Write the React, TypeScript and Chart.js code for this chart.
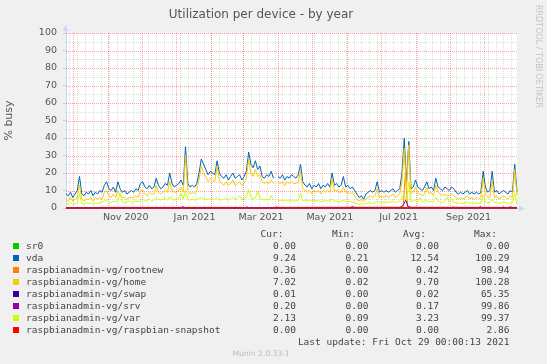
import React, { useEffect, useRef } from 'react';
import { Chart, registerables } from 'chart.js';

Chart.register(...registerables);

// ---- time frame ----
const START_UTC = Date.UTC(2020, 8, 25); // day 0
const DAY_MS = 86400000;
const RANGE_DAYS = 400;
const STEP_DAYS = 2; // one sample every 2 days
const LABEL_SHIFT_DAYS = 16; // rrdtool centres month labels mid-month

// ---- tick labels / grid ----
const X_LABELS = ['Nov 2020', 'Jan 2021', 'Mar 2021', 'May 2021', 'Jul 2021', 'Sep 2021'];
const X_LABEL_MONTHS: [number, number][] = [[2020, 10], [2021, 0], [2021, 2], [2021, 4], [2021, 6], [2021, 8]];
const GRID_MONTHS: [number, number][] = [
  [2020, 9], [2020, 10], [2020, 11], [2021, 0], [2021, 1], [2021, 2], [2021, 3],
  [2021, 4], [2021, 5], [2021, 6], [2021, 7], [2021, 8], [2021, 9],
];
const FIRST_MONDAY_UTC = Date.UTC(2020, 8, 28);
const Y_MAJOR = [0, 10, 20, 30, 40, 50, 60, 70, 80, 90, 100];
const Y_MINOR = [5, 15, 25, 35, 45, 55, 65, 75, 85, 95];

// ---- series (one value every 2 days) ----
const VDA = [
  8, 7, 9, 6, 8, 10, 18, 8, 7, 9,
  8, 10, 7, 9, 8, 10, 9, 13, 15, 11,
  10, 12, 9, 15, 11, 9, 10, 8, 9, 10,
  9, 11, 10, 14, 15, 12, 11, 13, 11, 12,
  17, 13, 11, 12, 14, 13, 20, 14, 12, 13,
  14, 16, 13, 35, 14, 12, 13, 12, 14, 20,
  28, 25, 22, 19, 21, 20, 19, 27, 20, 18,
  17, 19, 16, 18, 20, 17, 18, 19, 16, 18,
  21, 32, 25, 23, 27, 22, 24, 18, 17, 19,
  18, 21, 17, null, 18, 17, 19, 16, 18, 17,
  19, 18, 17, 19, 25, 15, 13, 12, 14, 11,
  13, 12, 14, 11, 13, 12, 14, 12, 20, 13,
  14, 12, 13, 18, 12, 13, 11, 12, 10, 8,
  6, 7, 5, 8, 9, 10, 9, 10, 15, 9,
  10, 9, 10, 9, 10, 11, 9, 10, 11, 20,
  40, 14, 38, 11, 12, 16, 12, 11, 10, 12,
  15, 11, 12, 10, 17, 12, 11, 10, 12, 11,
  10, 12, 11, 9, 8, 9, 8, 9, 10, 8,
  9, 8, 9, 8, 9, 21, 12, 9, 10, 21,
  9, 10, 8, 9, 10, 9, 8, 10, 9, 25,
  9.24,
];
const HOME = [
  5, 4, 6, 4, 5, 6, 13, 5, 4, 5,
  5, 6, 4, 6, 5, 6, 5, 9, 10, 7,
  6, 8, 6, 10, 7, 6, 6, 5, 6, 6,
  6, 7, 6, 10, 10, 8, 7, 9, 8, 8,
  13, 9, 8, 9, 10, 9, 15, 10, 9, 9,
  10, 12, 9, 30, 10, 8, 9, 8, 10, 16,
  24, 20, 18, 15, 17, 16, 15, 24, 16, 14,
  13, 15, 13, 14, 16, 13, 14, 15, 13, 14,
  17, 28, 20, 18, 22, 18, 19, 15, 14, 15,
  14, 16, 14, null, 15, 14, 15, 13, 15, 14,
  15, 14, 14, 15, 21, 11, 10, 9, 10, 8,
  10, 9, 10, 8, 10, 9, 10, 9, 17, 10,
  10, 9, 9, 12, 9, 9, 8, 9, 7, 5,
  4, 5, 3.6, 5, 6, 7, 6, 7, 11, 6,
  7, 6, 7, 6, 7, 8, 6, 7, 8, 15,
  34, 10, 36, 8, 9, 12, 8, 8, 7, 8,
  12, 8, 9, 7, 13, 9, 8, 7, 8, 7,
  7, 8, 7, 6, 5, 6, 5, 6, 7, 5,
  6, 5, 6, 5, 6, 17, 8, 6, 6, 16,
  6, 7, 5, 6, 7, 6, 5, 7, 6, 22,
  7.02,
];
const VAR = [
  2.5, 2, 3, 2, 2.5, 3, 8, 2.5, 2, 3,
  2.5, 3, 2, 3, 2.5, 3, 3.5, 4, 4.5, 3.5,
  3, 4, 3.5, 4, 8.5, 3.5, 3, 3.5, 4, 3,
  3.5, 4, 3.5, 4.5, 5, 4, 4.5, 5, 4, 4.5,
  6, 5, 4.5, 5, 5.5, 4.5, 6.5, 5, 4.5, 5,
  5.5, 8.5, 5, 10, 5, 4.5, 5, 4.5, 5, 5.5,
  6, 5.5, 5, 5, 5.5, 5, 5, 6, 5, 4.5,
  5, 5.5, 4.5, 5, 6, 5, 5.5, 7, 5, 5.5,
  6, 10.5, 6, 5.5, 6, 9.5, 5.5, 5, 4.5, 5,
  4.5, 7, 4.5, null, 4.5, 4, 4.5, 4, 4.5, 4,
  4.5, 4, 4, 4.5, 8.5, 4, 4.5, 4, 4.5, 4,
  4.5, 4, 4.5, 3.5, 4, 4.5, 4, 4, 5, 4,
  4, 3.5, 4, 4.5, 3.5, 4, 3.5, 3.5, 3, 2.5,
  2, 2.5, 2, 2.5, 3, 3, 2.5, 3, 4, 3,
  3.5, 3, 3.5, 3, 3.5, 4, 3, 3.5, 4, 6,
  8, 4, 15, 3.5, 4, 4.5, 3.5, 6, 3.5, 4,
  4.5, 3.5, 4, 3.5, 6, 4, 3.5, 3, 4, 6,
  3.5, 5.5, 3, 3, 2.5, 3, 2.5, 3, 3.5, 2.5,
  3, 2.5, 3, 2.5, 3, 7.5, 3.5, 3, 3, 5,
  3, 3.5, 2.5, 3, 3.5, 3, 2.5, 3, 3, 8.5,
  2.13,
];

// sparse series: [day, value]
const ROOTNEW_DAYS = [0, 29, 30, 158, 159, 183, 184, 299, 301, 303, 400];
const ROOTNEW_VALUES = [0, 0, 0.4, 0.4, 0, 0, 0.4, 0.5, 20, 0.5, 0.36];
const SRV_DAYS = [0, 102, 103.5, 105, 159, 160.5, 162, 185.5, 187, 188.5, 252, 254, 256, 296, 299, 301.5, 303, 306, 342, 343.5, 345, 366, 367.5, 369, 386.5, 388, 389.5, 392.5, 394, 395.5, 400];
const SRV_VALUES = [0.1, 0.1, 0.9, 0.1, 0.1, 0.7, 0.1, 0.1, 0.6, 0.1, 0.1, 0.9, 0.1, 0.2, 1.5, 4.8, 1.2, 0.2, 0.1, 0.6, 0.1, 0.1, 0.8, 0.1, 0.1, 0.6, 0.1, 0.1, 0.8, 0.2, 0.2];
const SWAP_DAYS = [0, 400];
const SWAP_VALUES = [0, 0.01];
const SR0_DAYS = [0, 400];
const SR0_VALUES = [0, 0];
const SNAPSHOT_DAYS = [0, 400];
const SNAPSHOT_VALUES = [0, 0];

// ---- legend table ----
const SERIES_NAMES = [
  'sr0', 'vda', 'raspbianadmin-vg/rootnew', 'raspbianadmin-vg/home', 'raspbianadmin-vg/swap',
  'raspbianadmin-vg/srv', 'raspbianadmin-vg/var', 'raspbianadmin-vg/raspbian-snapshot',
];
const SERIES_COLORS = ['#00CC00', '#0066B3', '#FF8000', '#FFCC00', '#330099', '#990099', '#CCFF00', '#FF0000'];
const CUR = ['0.00', '9.24', '0.36', '7.02', '0.01', '0.20', '2.13', '0.00'];
const MIN = ['0.00', '0.21', '0.00', '0.02', '0.00', '0.00', '0.09', '0.00'];
const AVG = ['0.00', '12.54', '0.42', '9.70', '0.02', '0.17', '3.23', '0.00'];
const MAX = ['0.00', '100.29', '98.94', '100.28', '65.35', '99.86', '99.37', '2.86'];
const HEADERS = ['Cur:', 'Min:', 'Avg:', 'Max:'];
const LAST_UPDATE = 'Last update: Fri Oct 29 00:00:13 2021';
const TITLE = 'Utilization per device - by year';
const Y_TITLE = '% busy';
const SIDE_TEXT = 'RRDTOOL / TOBI OETIKER';
const VERSION_TEXT = 'Munin 2.0.33-1';

// ---- styles ----
const W = 547;
const H = 364;
const BG = '#F0F0F0';
const TEXT = '#555555';
const LEGEND_TEXT = '#444444';
const AXIS = '#CFD6F8';
const MGRID = 'rgba(255,0,0,0.36)';
const GRID = 'rgba(0,0,0,0.13)';

const dayOf = (y: number, m: number, d = 1) => (Date.UTC(y, m, d) - START_UTC) / DAY_MS;
const LABEL_DAYS = X_LABEL_MONTHS.map(([y, m]) => dayOf(y, m) + LABEL_SHIFT_DAYS);
const MONTH_DAYS = GRID_MONTHS.map(([y, m]) => dayOf(y, m));
const WEEK_DAYS: number[] = [];
for (let d = (FIRST_MONDAY_UTC - START_UTC) / DAY_MS; d < RANGE_DAYS; d += 7) WEEK_DAYS.push(d);

const dense = (arr: (number | null)[]) => arr.map((v, i) => ({ x: i * STEP_DAYS, y: v }));
const sparse = (days: number[], vals: number[]) => days.map((d, i) => ({ x: d, y: vals[i] }));

const frame = {
  id: 'muninFrame',
  beforeDraw(chart: any) {
    const { ctx, chartArea: a } = chart;
    ctx.save();
    ctx.fillStyle = '#FFFFFF';
    ctx.fillRect(a.left, a.top, a.right - a.left, a.bottom - a.top);
    ctx.restore();
  },
  beforeDatasetsDraw(chart: any) {
    const { ctx, chartArea: a, scales } = chart;
    const xs = scales.x;
    const ys = scales.y;
    ctx.save();
    ctx.lineWidth = 1;
    ctx.setLineDash([1, 1]);
    const vline = (v: number, color: string) => {
      const px = Math.round(xs.getPixelForValue(v)) + 0.5;
      ctx.strokeStyle = color;
      ctx.beginPath();
      ctx.moveTo(px, a.top);
      ctx.lineTo(px, a.bottom);
      ctx.stroke();
    };
    const hline = (v: number, color: string) => {
      const py = Math.round(ys.getPixelForValue(v)) + 0.5;
      ctx.strokeStyle = color;
      ctx.beginPath();
      ctx.moveTo(a.left, py);
      ctx.lineTo(a.right, py);
      ctx.stroke();
    };
    WEEK_DAYS.forEach((d) => vline(d, GRID));
    Y_MINOR.forEach((v) => hline(v, GRID));
    MONTH_DAYS.forEach((d) => vline(d, MGRID));
    Y_MAJOR.forEach((v) => hline(v, MGRID));
    ctx.restore();
  },
  afterDraw(chart: any) {
    const { ctx, chartArea: a } = chart;
    ctx.save();
    ctx.fillStyle = AXIS;
    ctx.strokeStyle = AXIS;
    ctx.lineWidth = 1;
    const x = Math.round(a.left) - 0.5;
    ctx.beginPath();
    ctx.moveTo(x, a.top);
    ctx.lineTo(x, a.top - 3);
    ctx.stroke();
    ctx.beginPath();
    ctx.moveTo(x, a.top - 8);
    ctx.lineTo(x - 3, a.top - 2);
    ctx.lineTo(x + 3, a.top - 2);
    ctx.closePath();
    ctx.fill();
    const y = Math.round(a.bottom) + 0.5;
    ctx.beginPath();
    ctx.moveTo(a.right, y);
    ctx.lineTo(a.right + 3, y);
    ctx.stroke();
    ctx.beginPath();
    ctx.moveTo(a.right + 8, y);
    ctx.lineTo(a.right + 2, y - 3);
    ctx.lineTo(a.right + 2, y + 3);
    ctx.closePath();
    ctx.fill();
    ctx.restore();
  },
};

const axisFont = { family: 'DejaVu Sans', size: 9.5 };

export default function App() {
  const ref = useRef<HTMLCanvasElement>(null);

  useEffect(() => {
    document.body.style.margin = '0';
    document.body.style.background = BG;
    if (!ref.current) return;
    const seriesData = [
      sparse(SR0_DAYS, SR0_VALUES),
      dense(VDA),
      sparse(ROOTNEW_DAYS, ROOTNEW_VALUES),
      dense(HOME),
      sparse(SWAP_DAYS, SWAP_VALUES),
      sparse(SRV_DAYS, SRV_VALUES),
      dense(VAR),
      sparse(SNAPSHOT_DAYS, SNAPSHOT_VALUES),
    ];
    const chart = new Chart(ref.current, {
      type: 'line',
      data: {
        datasets: seriesData.map((d, i) => ({
          label: SERIES_NAMES[i],
          data: d,
          borderColor: SERIES_COLORS[i],
          backgroundColor: SERIES_COLORS[i],
          borderWidth: 1,
          pointRadius: 0,
          tension: 0,
          fill: false,
          spanGaps: false,
          clip: 2,
          order: SERIES_NAMES.length - 1 - i,
          xAxisID: 'x',
          yAxisID: 'y',
        })),
      },
      options: {
        animation: false,
        responsive: false,
        devicePixelRatio: 1,
        events: [],
        layout: { padding: { left: 0, top: 33, right: 30, bottom: H - 208 - 20 } },
        plugins: {
          legend: { display: false },
          title: { display: false },
          tooltip: { enabled: false },
        },
        scales: {
          x: {
            type: 'linear',
            position: 'bottom',
            min: 0,
            max: RANGE_DAYS,
            afterBuildTicks: (s: any) => { s.ticks = LABEL_DAYS.map((v) => ({ value: v })); },
            afterFit: (s: any) => { s.height = 20; },
            ticks: {
              autoSkip: false,
              maxRotation: 0,
              padding: 3.5,
              color: TEXT,
              font: axisFont,
              callback: (_v: any, i: number) => X_LABELS[i],
            },
            grid: { display: false, drawTicks: false },
            border: { display: true, color: AXIS },
          },
          y: {
            type: 'linear',
            position: 'left',
            min: 0,
            max: 100,
            afterFit: (s: any) => { s.width = 66; },
            ticks: { stepSize: 10, color: TEXT, font: axisFont, padding: 6 },
            grid: { drawOnChartArea: false, drawTicks: true, tickLength: 3, tickColor: '#D0D0D0', lineWidth: 1 },
            border: { display: true, color: AXIS },
            title: {
              display: true,
              text: Y_TITLE,
              color: TEXT,
              font: { family: 'DejaVu Sans', size: 11 },
              padding: { top: 3, bottom: 0 },
            },
          },
        },
      } as any,
      plugins: [frame],
    });
    return () => chart.destroy();
  }, []);

  const rowCenter = (k: number) => 245.5 + 12 * k;
  const abs = (top: number, extra: React.CSSProperties): React.CSSProperties => ({
    position: 'absolute',
    top,
    lineHeight: '12px',
    whiteSpace: 'pre',
    ...extra,
  });
  const valueRights = [296, 368.5, 439, 509.5];
  const headerRights = [283.5, 355, 426, 497];
  const valueCols = [CUR, MIN, AVG, MAX];

  return (
    <div style={{ position: 'relative', width: W, height: H, background: BG, overflow: 'hidden' }}>
      <canvas ref={ref} width={W} height={H} style={{ position: 'absolute', left: 0, top: 0, width: W, height: H }} />
      <div
        style={{
          position: 'absolute', left: 0, top: 7, width: 522, textAlign: 'center',
          fontFamily: 'DejaVu Sans', fontSize: 12, lineHeight: '14px', color: TEXT,
        }}
      >
        {TITLE}
      </div>
      <div
        style={{
          position: 'absolute', left: 533.5, top: 5, writingMode: 'vertical-rl',
          fontFamily: 'DejaVu Sans', fontSize: 8, lineHeight: '9px', color: '#C4C4C4',
        }}
      >
        {SIDE_TEXT}
      </div>
      <div style={{ fontFamily: 'DejaVu Sans Mono', fontSize: 9.5, color: LEGEND_TEXT }}>
        {HEADERS.map((h, j) => (
          <div key={h} style={abs(233.5 - 6, { right: W - headerRights[j] })}>{h}</div>
        ))}
        {SERIES_NAMES.map((name, k) => (
          <React.Fragment key={name}>
            <div
              style={{
                position: 'absolute', left: 13, top: rowCenter(k) - 3, width: 6, height: 6,
                background: SERIES_COLORS[k],
              }}
            />
            <div style={abs(rowCenter(k) - 6, { left: 26 })}>{name}</div>
            {valueCols.map((col, j) => (
              <div key={j} style={abs(rowCenter(k) - 6, { right: W - valueRights[j] })}>{col[k]}</div>
            ))}
          </React.Fragment>
        ))}
        <div style={abs(rowCenter(8) - 6, { right: W - valueRights[3] })}>{LAST_UPDATE}</div>
      </div>
      <div
        style={{
          position: 'absolute', left: 0, top: 353.5 - 6, width: 522, textAlign: 'center',
          fontFamily: 'DejaVu Sans', fontSize: 7.6, lineHeight: '12px', color: '#BBBBBB',
        }}
      >
        {VERSION_TEXT}
      </div>
    </div>
  );
}
